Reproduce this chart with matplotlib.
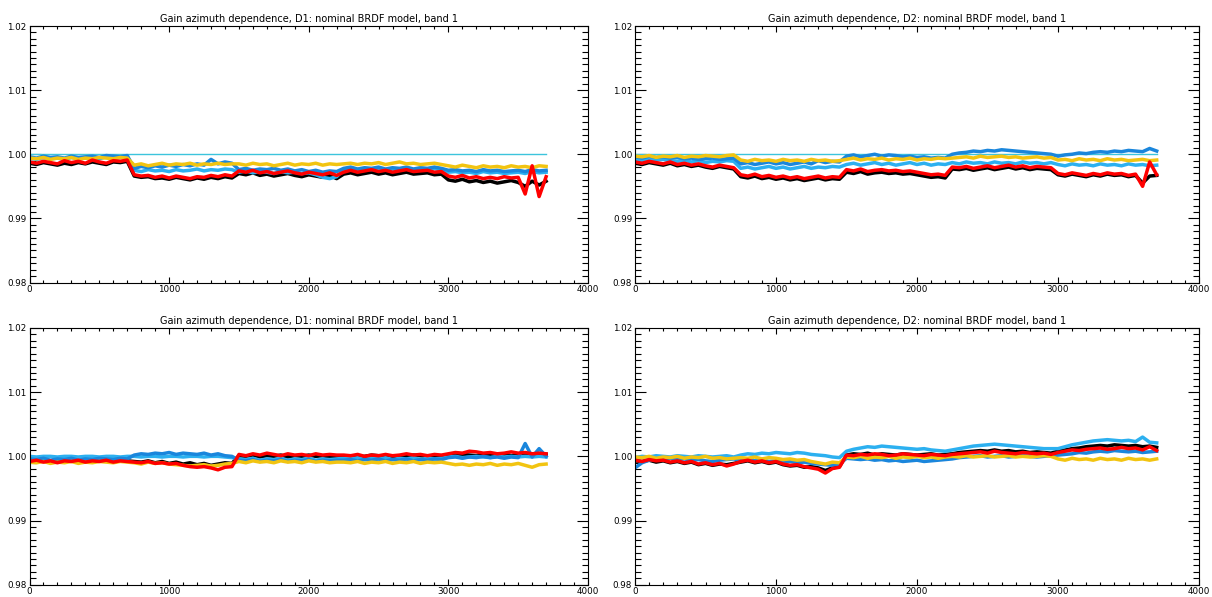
import numpy as np
import matplotlib
matplotlib.use("Agg")
import matplotlib.pyplot as plt
from matplotlib.ticker import MultipleLocator, FormatStrFormatter

# sample days (every 50 days) shared by all series
days = np.arange(0, 3701, 50)

# gain offsets from 1.0, in units of 1e-4, per panel and per series
# panel A: D1 top
a_black = [-14, -16, -13, -15, -17, -14, -16, -13, -15, -12, -14, -16, -12, -13, -11,
           -34, -36, -35, -38, -37, -39, -36, -38, -40, -37, -39, -36, -38, -35, -37,
           -30, -32, -29, -33, -31, -34, -32, -30, -33, -35, -32, -34, -36, -33, -38,
           -31, -29, -32, -30, -28, -31, -29, -32, -30, -28, -31, -30, -29, -32, -31,
           -40, -42, -39, -43, -41, -44, -42, -45, -43, -41, -44, -50, -42, -48, -42]
a_lblue = [-6, -8, -5, -7, -6, -8, -5, -7, -6, -5, -7, -4, -6, -5, -4,
           -25, -27, -24, -26, -25, -27, -24, -26, -25, -23, -26, -24, -25, -23, -24,
           -28, -26, -29, -27, -28, -30, -27, -29, -28, -30, -29, -32, -36, -38, -35,
           -24, -22, -25, -23, -24, -22, -25, -23, -24, -22, -25, -23, -24, -22, -25,
           -28, -27, -29, -28, -30, -27, -29, -28, -30, -29, -28, -30, -27, -29, -28]
a_blue = [-4, -6, -3, -5, -4, -6, -3, -5, -4, -3, -5, -2, -3, -4, -2,
          -22, -19, -21, -18, -20, -17, -19, -16, -18, -15, -17, -8, -15, -12, -14,
          -24, -22, -25, -23, -24, -22, -25, -23, -26, -24, -27, -25, -28, -26, -27,
          -22, -20, -23, -21, -22, -20, -23, -21, -22, -20, -23, -21, -22, -20, -22,
          -25, -24, -26, -25, -27, -24, -26, -25, -27, -26, -25, -27, -24, -26, -25]
a_yellow = [-6, -7, -5, -8, -6, -7, -5, -8, -6, -7, -5, -6, -7, -5, -6,
            -17, -15, -18, -16, -14, -17, -15, -16, -14, -17, -15, -16, -14, -16, -15,
            -15, -17, -14, -16, -15, -18, -16, -14, -17, -15, -16, -14, -17, -15, -16,
            -15, -14, -16, -14, -15, -13, -16, -14, -12, -15, -14, -16, -15, -14, -16,
            -18, -20, -17, -19, -21, -18, -20, -19, -21, -18, -20, -19, -21, -18, -19]
a_red = [-12, -14, -11, -13, -15, -10, -13, -11, -14, -9, -12, -14, -10, -11, -9,
         -32, -34, -33, -36, -34, -37, -34, -36, -38, -35, -36, -33, -35, -32, -34,
         -26, -28, -25, -29, -27, -30, -28, -26, -29, -31, -28, -30, -32, -29, -33,
         -28, -25, -28, -26, -24, -27, -25, -28, -26, -24, -27, -26, -25, -28, -27,
         -34, -36, -33, -37, -35, -38, -36, -38, -35, -37, -36, -62, -18, -66, -35]

# panel B: D2 top
b_black = [-14, -16, -13, -15, -17, -14, -18, -16, -19, -17, -20, -22, -19, -21, -23,
           -35, -37, -34, -38, -36, -39, -37, -40, -38, -41, -39, -37, -40, -38, -39,
           -28, -30, -27, -31, -29, -28, -30, -29, -31, -30, -32, -34, -36, -35, -37,
           -23, -24, -22, -25, -23, -21, -24, -22, -20, -23, -21, -24, -22, -23, -24,
           -32, -34, -31, -33, -35, -32, -34, -31, -33, -32, -35, -33, -45, -34, -33]
b_lblue = [-8, -10, -7, -9, -8, -10, -11, -9, -12, -10, -13, -11, -12, -10, -11,
           -22, -20, -23, -21, -19, -22, -20, -23, -21, -19, -22, -20, -21, -19, -20,
           -16, -14, -17, -15, -13, -16, -14, -17, -15, -13, -16, -14, -17, -15, -16,
           -13, -15, -12, -14, -13, -15, -12, -14, -13, -15, -12, -14, -13, -15, -13,
           -16, -18, -15, -17, -16, -18, -15, -17, -16, -18, -15, -17, -16, -18, -17]
b_blue = [-4, -6, -3, -5, -4, -6, -5, -7, -6, -8, -7, -6, -8, -7, -6,
          -15, -13, -16, -14, -12, -15, -13, -16, -14, -12, -15, -10, -13, -11, -12,
          -3, -1, -4, -2, 0, -3, -1, -2, -4, -3, -5, -4, -6, -5, -6,
          0, 2, 3, 5, 4, 6, 5, 7, 6, 5, 4, 3, 2, 1, 0,
          -3, -1, 0, 2, 1, 3, 4, 3, 5, 4, 6, 5, 4, 9, 5]
b_yellow = [-3, -4, -2, -5, -3, -4, -2, -5, -3, -4, -2, -3, -4, -2, -1,
            -9, -11, -8, -10, -9, -11, -8, -10, -9, -11, -8, -10, -9, -11, -10,
            -8, -6, -9, -7, -8, -6, -9, -7, -8, -6, -9, -7, -8, -6, -7,
            -6, -5, -4, -6, -3, -5, -4, -3, -5, -4, -6, -5, -4, -6, -5,
            -9, -8, -10, -7, -9, -8, -10, -7, -9, -8, -10, -9, -8, -10, -9]
b_red = [-12, -14, -11, -13, -15, -12, -16, -14, -17, -15, -18, -20, -17, -19, -21,
         -32, -34, -31, -35, -33, -36, -34, -37, -35, -38, -36, -34, -37, -35, -36,
         -24, -26, -23, -27, -25, -24, -26, -25, -27, -26, -28, -30, -32, -31, -33,
         -20, -21, -19, -22, -20, -18, -21, -19, -17, -20, -18, -21, -19, -20, -21,
         -30, -32, -29, -31, -33, -30, -32, -29, -31, -30, -33, -31, -50, -12, -32]

# panel C: D1 bottom
c_black = [-7, -8, -6, -9, -7, -8, -6, -9, -7, -8, -6, -7, -8, -6, -7,
           -8, -9, -7, -10, -8, -11, -9, -12, -10, -13, -11, -14, -12, -10, -11,
           1, 0, 2, -1, 1, 0, 2, -1, 1, 0, 2, 0, 1, -1, 0,
           0, 1, -1, 0, 2, 1, 0, -1, 1, 0, 2, 1, 0, 1, 0,
           2, 1, 3, 2, 1, 3, 2, 4, 3, 1, 2, 3, 1, 2, 3]
c_lblue = [0, -1, 0, 0, -1, 0, 0, -1, 0, 0, -1, 0, 0, -1, 0,
           0, -1, 0, 0, -1, 0, 0, -1, 0, 0, -1, 0, 0, -1, -2,
           -4, -5, -3, -6, -4, -5, -3, -6, -4, -5, -3, -6, -4, -5, -4,
           -3, -4, -2, -5, -3, -4, -2, -5, -3, -4, -2, -5, -3, -4, -3,
           -1, 0, -2, -1, 0, -1, -2, 0, -1, 0, -1, 0, -1, 0, -1]
c_blue = [-4, -5, -3, -6, -4, -5, -3, -6, -4, -5, -3, -4, -5, -3, -4,
          2, 4, 3, 5, 4, 6, 3, 5, 4, 3, 5, 2, 4, 1, 0,
          -6, -7, -5, -8, -6, -7, -5, -8, -6, -7, -5, -8, -6, -7, -6,
          -6, -5, -7, -5, -6, -4, -7, -5, -6, -4, -7, -5, -6, -4, -5,
          -2, -1, -3, -1, -2, 0, -2, -1, -3, -1, -2, 20, -1, 12, 0]
c_yellow = [-9, -10, -8, -11, -9, -10, -8, -11, -9, -10, -8, -9, -10, -8, -9,
            -10, -12, -9, -11, -10, -12, -13, -14, -15, -14, -13, -15, -14, -12, -11,
            -8, -10, -7, -9, -8, -10, -7, -9, -8, -10, -7, -9, -8, -10, -9,
            -9, -10, -8, -11, -9, -10, -8, -11, -9, -10, -8, -11, -9, -10, -9,
            -11, -13, -12, -14, -12, -13, -11, -14, -12, -13, -11, -14, -17, -13, -12]
c_red = [-8, -6, -9, -7, -10, -7, -8, -6, -9, -7, -8, -6, -9, -7, -8,
         -9, -10, -8, -11, -10, -12, -11, -14, -16, -17, -16, -18, -21, -17, -16,
         3, 1, 4, 2, 5, 3, 1, 4, 2, 3, 1, 4, 2, 3, 2,
         2, 1, 3, 0, 2, 1, 3, 1, 2, 4, 2, 3, 1, 3, 2,
         4, 6, 5, 8, 7, 5, 6, 4, 5, 7, 5, 6, 4, 5, 4]

# panel D: D2 bottom
d_black = [-7, -8, -6, -9, -7, -10, -8, -11, -9, -13, -11, -14, -12, -13, -11,
           -9, -7, -10, -8, -11, -9, -13, -15, -14, -17, -16, -18, -22, -18, -16,
           2, 4, 3, 5, 2, 4, 3, 2, 4, 3, 2, 3, 4, 2, 3,
           4, 6, 7, 8, 9, 8, 10, 8, 9, 7, 8, 6, 7, 6, 5,
           8, 10, 12, 13, 15, 16, 17, 16, 18, 17, 16, 17, 15, 16, 14]
d_lblue = [-2, 0, -1, 1, 0, -1, 1, 0, -1, 1, 0, -1, 0, 1, -1,
           2, 4, 3, 5, 4, 6, 5, 4, 6, 5, 3, 2, 1, -1, -2,
           8, 11, 13, 15, 14, 16, 15, 14, 13, 12, 11, 12, 10, 9, 8,
           10, 12, 14, 16, 17, 18, 19, 18, 17, 16, 15, 14, 13, 12, 12,
           12, 15, 18, 20, 22, 24, 25, 26, 25, 24, 25, 23, 30, 22, 21]
d_blue = [-18, -10, -6, -4, -5, -3, -5, -4, -6, -5, -7, -8, -6, -5, -4,
          -6, -5, -7, -6, -8, -7, -9, -8, -10, -9, -11, -12, -13, -14, -12,
          -3, -4, -5, -4, -6, -5, -7, -6, -8, -7, -6, -8, -7, -6, -5,
          -4, -2, -1, 0, 1, -1, 0, 1, -1, 0, 1, 0, -1, 0, 1,
          2, 3, 4, 6, 5, 7, 8, 7, 9, 8, 7, 8, 6, 7, 8]
d_yellow = [-1, -2, 0, -3, -1, -2, 0, -3, -1, -2, 0, -3, -2, -4, -3,
            -2, -3, -1, -4, -2, -3, -5, -4, -6, -5, -8, -10, -12, -9, -10,
            -1, -2, 0, -3, -1, -2, 0, -3, -1, -2, 0, -2, -1, -3, -1,
            0, -1, 1, -1, 0, 1, -1, 0, 1, -1, 0, -1, 0, 1, 0,
            -4, -6, -3, -5, -4, -6, -3, -5, -4, -6, -3, -5, -4, -6, -4]
d_red = [-6, -8, -5, -7, -6, -9, -7, -10, -8, -12, -10, -13, -11, -15, -12,
         -8, -6, -9, -7, -10, -8, -12, -14, -13, -16, -18, -20, -26, -19, -17,
         2, 1, 3, 2, 4, 3, 1, 2, 4, 3, 2, 1, 3, 2, 1,
         3, 4, 5, 6, 7, 5, 8, 6, 5, 4, 6, 5, 4, 5, 3,
         6, 8, 10, 9, 11, 12, 13, 11, 12, 14, 12, 13, 10, 15, 9]

titles = ["Gain azimuth dependence, D1: nominal BRDF model, band 1",
          "Gain azimuth dependence, D2: nominal BRDF model, band 1",
          "Gain azimuth dependence, D1: nominal BRDF model, band 1",
          "Gain azimuth dependence, D2: nominal BRDF model, band 1"]

panels = [
    [a_black, a_lblue, a_blue, a_yellow, a_red],
    [b_black, b_lblue, b_blue, b_yellow, b_red],
    [c_black, c_lblue, c_blue, c_yellow, c_red],
    [d_black, d_lblue, d_blue, d_yellow, d_red],
]
colors = ["#000000", "#2cb0f0", "#1a86dc", "#f2c411", "#ff0000"]
ref_line = [True, True, False, False]

W, H = 1212, 597
boxes = [
    (29.5, 26, 558.5, 256.5),
    (635, 26, 564, 256.5),
    (29.5, 328, 558.5, 256.7),
    (635, 328, 564, 256.7),
]

fig = plt.figure(figsize=(W / 100, H / 100), dpi=100)

for i, (x0, y0, w, h) in enumerate(boxes):
    ax = fig.add_axes([x0 / W, 1 - (y0 + h) / H, w / W, h / H])
    if ref_line[i]:
        ax.plot([0, days[-1]], [1.0, 1.0], color="#3cc4dc", lw=1.0)
    for vals, col in zip(panels[i], colors):
        ax.plot(days, 1 + np.array(vals) * 1e-4, color=col, lw=2.5)

    ax.set_xlim(0, 4000)
    ax.set_ylim(0.98, 1.02)
    ax.xaxis.set_major_locator(MultipleLocator(1000))
    ax.xaxis.set_minor_locator(MultipleLocator(100))
    ax.yaxis.set_major_locator(MultipleLocator(0.01))
    ax.yaxis.set_minor_locator(MultipleLocator(0.001))
    ax.yaxis.set_major_formatter(FormatStrFormatter("%.2f"))
    ax.tick_params(which="both", direction="in", top=True, right=True,
                   labelsize=6.3, width=0.8, pad=2)
    ax.tick_params(axis="y", which="major", length=8)
    ax.tick_params(axis="y", which="minor", length=4)
    ax.tick_params(axis="x", which="major", length=4)
    ax.tick_params(axis="x", which="minor", length=2)
    for s in ax.spines.values():
        s.set_linewidth(0.8)
    ax.set_title(titles[i], fontsize=7, pad=3)

fig.savefig("out.png", dpi=100)
